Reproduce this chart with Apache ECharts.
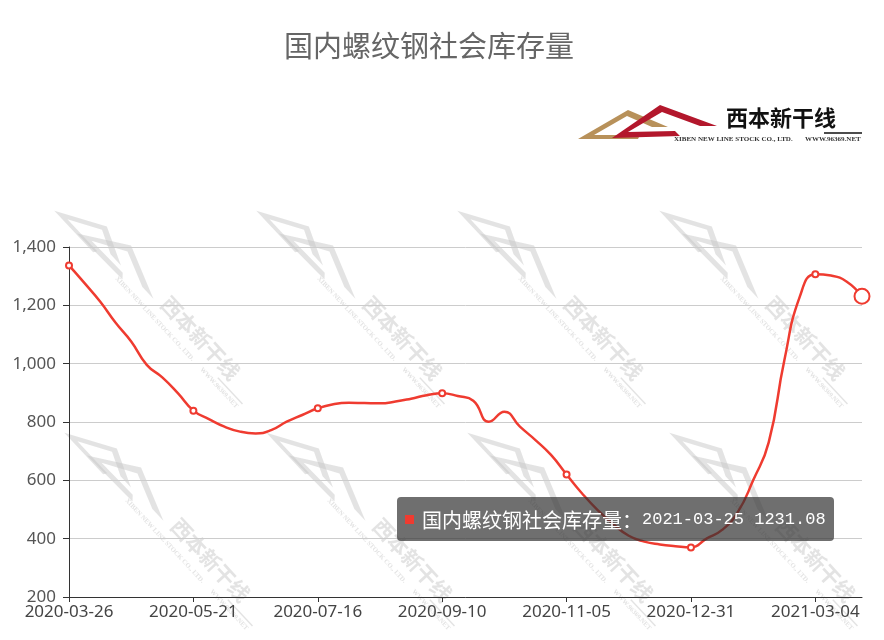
<!DOCTYPE html>
<html>
<head>
<meta charset="utf-8">
<script src="https://cdn.jsdelivr.net/npm/echarts@6/dist/echarts.min.js"></script>
<style>
html,body{margin:0;padding:0;background:#fff;}
#main{width:884px;height:640px;}
</style>
</head>
<body>
<div id="main"></div>
<script>
var seriesName = '国内螺纹钢社会库存量';
var dates = [
  '2020-03-26','2020-04-02','2020-04-09','2020-04-16','2020-04-23','2020-04-30','2020-05-07','2020-05-14',
  '2020-05-21','2020-05-28','2020-06-04','2020-06-11','2020-06-18','2020-06-24','2020-07-02','2020-07-09',
  '2020-07-16','2020-07-23','2020-07-30','2020-08-06','2020-08-13','2020-08-20','2020-08-27','2020-09-03',
  '2020-09-10','2020-09-17','2020-09-24','2020-09-30','2020-10-09','2020-10-15','2020-10-22','2020-10-29',
  '2020-11-05','2020-11-12','2020-11-19','2020-11-26','2020-12-03','2020-12-10','2020-12-17','2020-12-24',
  '2020-12-31','2021-01-07','2021-01-14','2021-01-21','2021-01-28','2021-02-04','2021-02-10','2021-02-25',
  '2021-03-04','2021-03-11','2021-03-18','2021-03-25'
];
var stock = [
  1337, 1276, 1213, 1140, 1076, 996, 953, 899,
  839, 810, 784, 767, 761, 772, 801, 824,
  847, 861, 866, 865, 864, 870, 880, 892,
  899, 889, 873, 801, 835, 784, 738, 687,
  620, 555, 498, 450, 410, 390, 380, 374,
  370, 400, 430, 490, 600, 730, 1010, 1230,
  1307, 1302, 1282, 1231.08
];
var yTicks = [200, 400, 600, 800, 1000, 1200, 1400];

var lineColor = '#ef3b30';
var labelStep = 8;
var lastIndex = stock.length - 1;

function makeLogo(ox, oy, rot, sc, mono, op, z) {
  var gold = mono || '#b8915a';
  var red = mono || '#b3172c';
  var ink = mono || '#111';
  var small = mono || '#333';
  function st(fill) { return {fill: fill, opacity: op}; }
  return {
    type: 'group', x: ox, y: oy, rotation: rot, scaleX: sc, scaleY: sc, z: z, silent: true,
    children: [
      {type: 'polygon', z: z, shape: {points: [[0,1],[50,-28],[90,-11],[74,-11],[49,-22],[16,-3],[62,-3],[60,1]]}, style: st(gold)},
      {type: 'polygon', z: z, shape: {points: [[34,0],[82,-33],[139,-12],[122,-12],[84,-26],[50,-6],[97,-7],[102,-2]]}, style: st(red)},
      {type: 'text', z: z, x: 148, y: -31, style: {text: '西本新干线', fill: ink, opacity: op, font: 'bold 22px "Noto Sans CJK SC"'}},
      {type: 'line', z: z, shape: {x1: 246, y1: -5, x2: 284, y2: -5}, style: {stroke: ink, lineWidth: 1.5, opacity: op}},
      {type: 'text', z: z, x: 96, y: -2, style: {text: 'XIBEN NEW LINE STOCK CO., LTD.', fill: small, opacity: op, font: 'bold 7px "Liberation Serif"'}},
      {type: 'text', z: z, x: 227, y: -2, style: {text: 'WWW.96369.NET', fill: small, opacity: op, font: 'bold 7px "Liberation Serif"'}}
    ]
  };
}

var graphics = [];
var wmRot = -47 * Math.PI / 180;
var wmCols = [55, 257, 458, 660];
for (var c = 0; c < wmCols.length; c++) {
  graphics.push(makeLogo(wmCols[c], 210, wmRot, 0.95, '#c8c8c8', 0.5, -10));
  graphics.push(makeLogo(wmCols[c] + 10, 432, wmRot, 0.95, '#c8c8c8', 0.5, -10));
}
graphics.push(makeLogo(578, 138, 0, 1, null, 1, 5));

var seriesData = stock.map(function (v, i) {
  var size = 0;
  if (i % labelStep === 0) size = 6;
  if (i === lastIndex) size = 15;
  return {value: v, symbolSize: size};
});

var chart = echarts.init(document.getElementById('main'), null, {renderer: 'canvas'});
chart.setOption({
  animation: false,
  backgroundColor: '#fff',
  title: {
    text: seriesName,
    left: 279, top: 26,
    textStyle: {fontSize: 29, fontWeight: 'normal', color: '#666', fontFamily: 'Noto Sans CJK SC'}
  },
  graphic: graphics,
  grid: {left: 69, right: 22, top: 247, bottom: 43, containLabel: false},
  tooltip: {
    trigger: 'item',
    triggerOn: 'none',
    alwaysShowContent: true,
    transitionDuration: 0,
    backgroundColor: 'rgba(50,50,50,0.7)',
    borderWidth: 0,
    padding: [8, 8],
    extraCssText: 'box-shadow:none;border-radius:4px;',
    position: function () { return [397, 497]; },
    formatter: function (p) {
      return '<div style="line-height:27px;white-space:nowrap;color:#fff;">' +
        '<span style="display:inline-block;width:9px;height:9px;background:' + lineColor + ';margin-right:8px;vertical-align:middle;"></span>' +
        '<span style="font-family:\'Noto Sans CJK SC\';font-size:20px;vertical-align:middle;">' + p.seriesName + '：</span>' +
        '<span style="font-family:\'Liberation Mono\';font-size:17px;vertical-align:middle;">' + p.name + ' ' + p.value + '</span></div>';
    }
  },
  xAxis: {
    type: 'category',
    data: dates,
    boundaryGap: false,
    axisLine: {show: true, lineStyle: {color: '#333', width: 1}},
    axisTick: {show: true, interval: labelStep - 1, length: 5, lineStyle: {color: '#333'}},
    axisLabel: {interval: labelStep - 1, fontSize: 17, color: '#444', margin: 7, fontFamily: 'Noto Sans'},
    splitLine: {show: false}
  },
  yAxis: {
    type: 'value',
    min: yTicks[0],
    max: yTicks[yTicks.length - 1],
    interval: yTicks[1] - yTicks[0],
    axisLine: {show: true, lineStyle: {color: '#333', width: 1}},
    axisTick: {show: true, length: 6, lineStyle: {color: '#333'}},
    axisLabel: {fontSize: 17, color: '#555', margin: 13, fontFamily: 'Noto Sans',
      formatter: function (v) { return v.toLocaleString('en-US'); }},
    splitLine: {show: true, lineStyle: {color: '#ccc', width: 1}}
  },
  series: [{
    name: seriesName,
    type: 'line',
    data: seriesData,
    smooth: true,
    symbol: 'emptyCircle',
    showAllSymbol: true,
    lineStyle: {color: lineColor, width: 2.5},
    itemStyle: {color: lineColor, borderColor: lineColor, borderWidth: 1.5},
    emphasis: {scale: false},
    z: 3
  }]
});
chart.dispatchAction({type: 'showTip', seriesIndex: 0, dataIndex: lastIndex});
</script>
</body>
</html>
